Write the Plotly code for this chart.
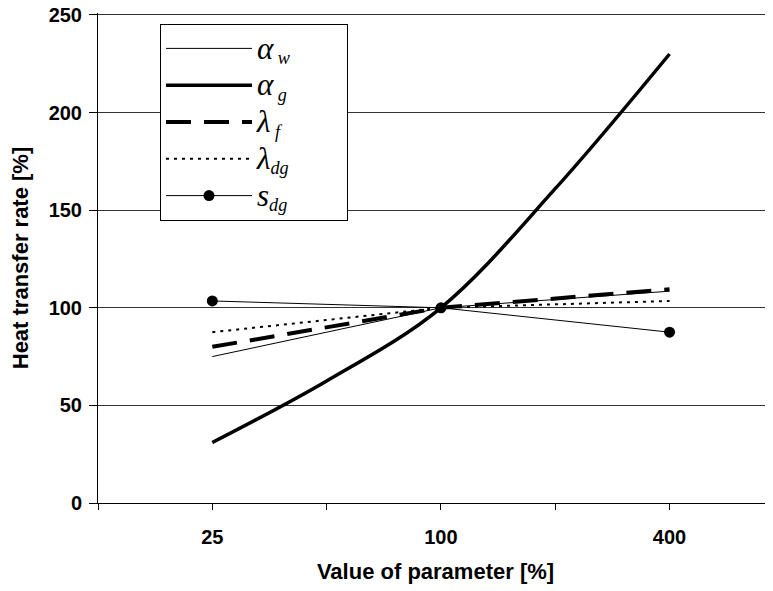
import numpy as np
import plotly.graph_objects as go

# ---- data ----
x3 = [25, 100, 400]
x5 = [25, 50, 100, 200, 400]
alpha_w = [75, 100, 108.5]
alpha_g = [31, 62.5, 100, 161, 230]
lambda_f = [80, 100, 109.5]
lambda_dg = [87.5, 100, 103.5]
s_dg = [103.5, 100, 87.5]

x_tickvals = [12.5, 25, 50, 100, 200, 400]
x_ticktext = ["", "25", "", "100", "", "400"]
y_tickvals = [0, 50, 100, 150, 200, 250]

PAD = "\u00a0" * 8

def lbl(main, sub):
    return "<span style='font-size:31px'><i>%s</i></span><sub><i>%s</i></sub>" % (main, sub) + PAD + "\u200b"

fig = go.Figure()
fig.add_trace(go.Scatter(x=x3, y=alpha_w, mode="lines", name=lbl("α", "\u00a0w"),
                         line=dict(color="black", width=1)))
fig.add_trace(go.Scatter(x=x5, y=alpha_g, mode="lines", name=lbl("α", "\u00a0g"),
                         line=dict(color="black", width=3.5, shape="spline", smoothing=1)))
fig.add_trace(go.Scatter(x=x3, y=lambda_f, mode="lines", name=lbl("λ", "\u00a0f"),
                         line=dict(color="black", width=4, dash="25px,13px")))
fig.add_trace(go.Scatter(x=x3, y=lambda_dg, mode="lines", name=lbl("λ", "dg"),
                         line=dict(color="black", width=2, dash="3px,5px")))
fig.add_trace(go.Scatter(x=x3, y=s_dg, mode="lines+markers", name=lbl("s", "dg"),
                         line=dict(color="black", width=1),
                         marker=dict(color="black", size=11)))

fig.update_layout(
    width=765, height=583,
    margin=dict(l=90, r=0, t=5, b=88),
    paper_bgcolor="white", plot_bgcolor="white",
    font=dict(family="Liberation Sans", color="black"),
    showlegend=True,
    legend=dict(
        x=(160 - 98) / 675, y=1 - (24 - 13) / 490,
        xanchor="left", yanchor="top",
        bgcolor="white", bordercolor="black", borderwidth=1,
        font=dict(family="Liberation Serif", size=26, color="black"),
        itemwidth=86, tracegroupgap=0,
    ),
    xaxis=dict(
        type="log",
        range=[np.log10(12.5), np.log10(749)],
        tickvals=x_tickvals, ticktext=x_ticktext,
        ticks="outside", ticklen=6, tickcolor="black", tickwidth=1,
        showline=True, linecolor="black", linewidth=1,
        showgrid=False, zeroline=False, automargin=False,
        ticklabeloverflow="allow",
        tickfont=dict(family="Liberation Sans", size=20, color="black", weight="bold"),
        ticklabelstandoff=10,
        title=dict(text="<b>Value of parameter [%]</b>",
                   font=dict(family="Liberation Sans", size=22, color="black"),
                   standoff=16),
    ),
    yaxis=dict(
        range=[0, 251],
        tickvals=y_tickvals,
        ticks="outside", ticklen=8, tickcolor="black", tickwidth=1,
        showline=True, linecolor="black", linewidth=1,
        showgrid=True, gridcolor="#333333", gridwidth=1,
        zeroline=False, automargin=False,
        ticklabeloverflow="allow",
        tickfont=dict(family="Liberation Sans", size=20, color="black", weight="bold"),
        ticklabelstandoff=3,
        title=dict(text="<b>Heat transfer rate [%]</b>",
                   font=dict(family="Liberation Sans", size=22, color="black"),
                   standoff=14),
    ),
)

fig.write_html("out.html")
